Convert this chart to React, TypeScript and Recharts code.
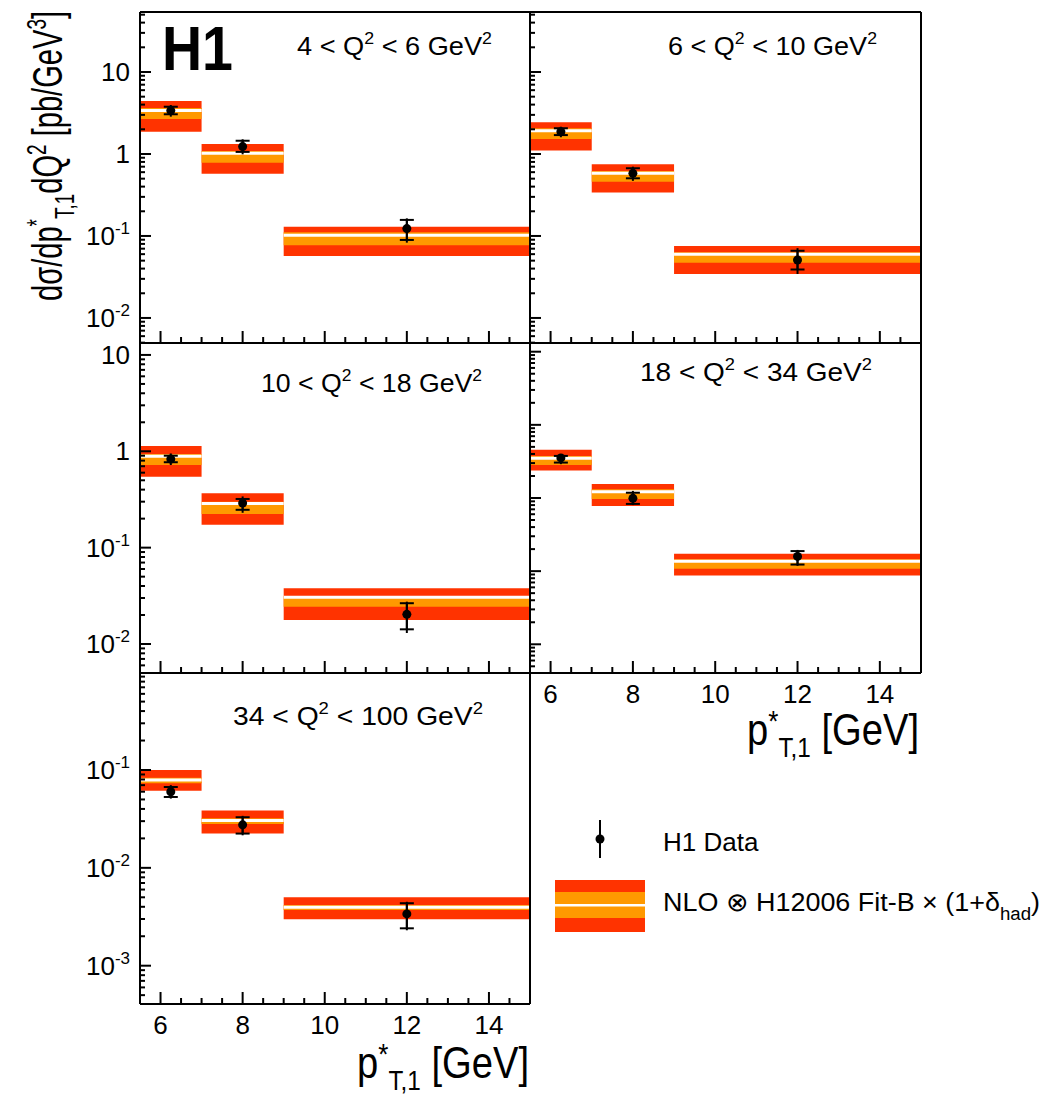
import React from "react";
import {
  ComposedChart,
  ErrorBar,
  ReferenceArea,
  ReferenceLine,
  Scatter,
  XAxis,
  YAxis,
} from "recharts";

const FONT = '"Liberation Sans", Arial, Helvetica, sans-serif';
const RED = "#ff3300";
const ORANGE = "#ff9900";

// p*T,1 bins [GeV]
const binLo = [5.5, 7, 9];
const binHi = [7, 9, 15];
const binCentre = [6.25, 8, 12];

// Q2 range of each panel [GeV^2]
const q2Lo = [4, 6, 10, 18, 34];
const q2Hi = [6, 10, 18, 34, 100];

// H1 data, one row per Q2 panel [pb/GeV^3]
const h1Data = [
  [3.38, 1.23, 0.123],
  [1.87, 0.58, 0.051],
  [0.83, 0.29, 0.0203],
  [0.353, 0.099, 0.0159],
  [0.06, 0.0275, 0.00338],
];
const statHi = [
  [3.77, 1.45, 0.157],
  [2.06, 0.67, 0.066],
  [0.9, 0.32, 0.0265],
  [0.376, 0.118, 0.0188],
  [0.067, 0.0329, 0.00435],
];
const statLo = [
  [3.05, 1.06, 0.0894],
  [1.7, 0.505, 0.039],
  [0.77, 0.247, 0.0142],
  [0.305, 0.083, 0.0123],
  [0.053, 0.0224, 0.00241],
];
const totHi = [
  [3.96, 1.51, 0.164],
  [2.15, 0.7, 0.071],
  [0.95, 0.34, 0.0275],
  [0.39, 0.125, 0.0195],
  [0.07, 0.034, 0.0045],
];
const totLo = [
  [2.85, 0.99, 0.0829],
  [1.6, 0.47, 0.0344],
  [0.72, 0.23, 0.013],
  [0.29, 0.08, 0.0118],
  [0.051, 0.0215, 0.0023],
];

// NLO prediction: central value, inner (orange) and outer (red) bands
const nloCentral = [
  [3.39, 1.02, 0.102],
  [1.92, 0.58, 0.0598],
  [0.89, 0.288, 0.0306],
  [0.35, 0.122, 0.0136],
  [0.079, 0.0305, 0.00396],
];
const nloInnerHi = [
  [3.64, 1.09, 0.111],
  [2.06, 0.62, 0.0633],
  [0.94, 0.3, 0.0315],
  [0.376, 0.132, 0.0145],
  [0.0834, 0.0321, 0.00417],
];
const nloInnerLo = [
  [2.67, 0.78, 0.077],
  [1.52, 0.46, 0.0473],
  [0.72, 0.224, 0.0244],
  [0.283, 0.097, 0.0108],
  [0.073, 0.0281, 0.00371],
];
const nloOuterHi = [
  [4.43, 1.32, 0.13],
  [2.44, 0.75, 0.0755],
  [1.135, 0.366, 0.0379],
  [0.455, 0.155, 0.0173],
  [0.1, 0.0386, 0.005],
];
const nloOuterLo = [
  [1.87, 0.575, 0.057],
  [1.1, 0.34, 0.0344],
  [0.545, 0.173, 0.0177],
  [0.237, 0.078, 0.0087],
  [0.0614, 0.0224, 0.00298],
];

// axes
const xTicks = [6, 6.5, 7, 7.5, 8, 8.5, 9, 9.5, 10, 10.5, 11, 11.5, 12, 12.5, 13, 13.5, 14, 14.5];
const xMajor = [6, 8, 10, 12, 14];
const yDomains = [
  [0.00495, 53.9],
  [0.00495, 53.9],
  [0.005, 13.3],
  [0.000405, 13.15],
  [0.000406, 0.98],
];

// panel frames on the page
const panels = [
  { left: 140, top: 12, w: 390, h: 331, yLab: true, xLab: false },
  { left: 530, top: 12, w: 391, h: 331, yLab: false, xLab: false },
  { left: 140, top: 343, w: 390, h: 330, yLab: true, xLab: false },
  { left: 530, top: 343, w: 391, h: 330, yLab: false, xLab: true },
  { left: 140, top: 673, w: 390, h: 331, yLab: true, xLab: true },
];

const logTicks = (lo: number, hi: number) => {
  const out: number[] = [];
  for (let e = Math.floor(Math.log10(lo)); e <= Math.ceil(Math.log10(hi)); e++) {
    for (let m = 1; m <= 9; m++) {
      const v = m * Math.pow(10, e);
      if (v >= lo && v <= hi) out.push(v);
    }
  }
  return out;
};

const isDecade = (v: number) =>
  Math.abs(Math.log10(v) - Math.round(Math.log10(v))) < 1e-6;

const YTick = (props: any) => {
  const { x, y, payload, showLabel } = props;
  const v = payload.value;
  const major = isDecade(v);
  const e = Math.round(Math.log10(v));
  return (
    <g>
      <line x1={x} x2={x + (major ? 11 : 5)} y1={y} y2={y} stroke="#000" strokeWidth={2} />
      {showLabel && major && (
        <text x={x - 10} y={y + 9} textAnchor="end" fontSize={26} fontFamily={FONT} fill="#000">
          {e === 0 ? "1" : e === 1 ? "10" : (
            <>
              10
              <tspan dy={-11} fontSize={17}>{e}</tspan>
            </>
          )}
        </text>
      )}
    </g>
  );
};

const XTick = (props: any) => {
  const { x, y, payload, showLabel } = props;
  const major = xMajor.includes(payload.value);
  return (
    <g>
      <line x1={x} x2={x} y1={y} y2={y - (major ? 12 : 6)} stroke="#000" strokeWidth={2} />
      {showLabel && major && (
        <text x={x} y={y + 30} textAnchor="middle" fontSize={26} fontFamily={FONT} fill="#000">
          {payload.value}
        </text>
      )}
    </g>
  );
};

// each axis takes 1px, so the margins are 1px smaller than the padding round the frame
const PAD = { top: 10, right: 10, bottom: 50, left: 90 };
const MARGIN = { top: PAD.top - 1, right: PAD.right - 1, bottom: PAD.bottom - 1, left: PAD.left - 1 };
const frame = { stroke: "#000", strokeWidth: 2 };

const Panel = ({ p }: { p: number }) => {
  const box = panels[p];
  const dom = yDomains[p];
  const pts = binCentre.map((x, i) => ({
    x,
    y: h1Data[p][i],
    stat: [h1Data[p][i] - statLo[p][i], statHi[p][i] - h1Data[p][i]],
    tot: [h1Data[p][i] - totLo[p][i], totHi[p][i] - h1Data[p][i]],
  }));
  return (
    <div
      style={{
        position: "absolute",
        left: box.left - PAD.left,
        top: box.top - PAD.top,
      }}
    >
      <ComposedChart
        width={box.w + PAD.left + PAD.right}
        height={box.h + PAD.top + PAD.bottom}
        margin={MARGIN}
      >
        {binLo.map((lo, i) => (
          <ReferenceArea
            key={`o${i}`}
            x1={lo}
            x2={binHi[i]}
            y1={nloOuterLo[p][i]}
            y2={nloOuterHi[p][i]}
            fill={RED}
            fillOpacity={1}
            stroke="none"
          />
        ))}
        {binLo.map((lo, i) => (
          <ReferenceArea
            key={`i${i}`}
            x1={lo}
            x2={binHi[i]}
            y1={nloInnerLo[p][i]}
            y2={nloInnerHi[p][i]}
            fill={ORANGE}
            fillOpacity={1}
            stroke="none"
          />
        ))}
        {binLo.map((lo, i) => (
          <ReferenceLine
            key={`c${i}`}
            segment={[
              { x: lo, y: nloCentral[p][i] },
              { x: binHi[i], y: nloCentral[p][i] },
            ]}
            stroke="#fff"
            strokeWidth={3}
          />
        ))}
        <XAxis
          type="number"
          dataKey="x"
          domain={[5.5, 15]}
          ticks={xTicks}
          interval={0}
          height={1}
          tickSize={0}
          tickMargin={0}
          tickLine={false}
          axisLine={frame}
          allowDataOverflow
          tick={(t: any) => <XTick {...t} showLabel={box.xLab} />}
        />
        <XAxis
          xAxisId="top"
          orientation="top"
          type="number"
          domain={[5.5, 15]}
          height={1}
          tick={false}
          tickLine={false}
          axisLine={frame}
        />
        <YAxis
          type="number"
          dataKey="y"
          scale="log"
          domain={dom}
          ticks={logTicks(dom[0], dom[1])}
          interval={0}
          width={1}
          tickSize={0}
          tickMargin={0}
          tickLine={false}
          axisLine={frame}
          allowDataOverflow
          tick={(t: any) => <YTick {...t} showLabel={box.yLab} />}
        />
        <YAxis
          yAxisId="right"
          orientation="right"
          type="number"
          domain={[0, 1]}
          width={1}
          tick={false}
          tickLine={false}
          axisLine={frame}
        />
        <Scatter
          data={pts}
          dataKey="y"
          isAnimationActive={false}
          shape={(s: any) => <circle cx={s.cx} cy={s.cy} r={4.5} fill="#000" />}
        >
          <ErrorBar dataKey="tot" direction="y" width={0} stroke="#000" strokeWidth={2} />
          <ErrorBar dataKey="stat" direction="y" width={7} stroke="#000" strokeWidth={2} />
        </Scatter>
      </ComposedChart>
    </div>
  );
};

const q2Pos = [
  { x: 297, y: 55, len: 195 },
  { x: 668, y: 55, len: 209 },
  { x: 261, y: 392, len: 221 },
  { x: 640, y: 381, len: 232 },
  { x: 233, y: 725, len: 250 },
];

const Sup = ({ children }: { children: React.ReactNode }) => (
  <tspan dy={-11} fontSize={17}>{children}</tspan>
);

const Overlay = () => (
  <svg
    width={1042}
    height={1095}
    style={{ position: "absolute", left: 0, top: 0, pointerEvents: "none" }}
    fontFamily={FONT}
  >
    <text x={162} y={70} fontSize={63} fontWeight="bold" textLength={71} lengthAdjust="spacingAndGlyphs">
      H1
    </text>
    {q2Pos.map((q, p) => (
      <text key={p} x={q.x} y={q.y} fontSize={26} textLength={q.len} lengthAdjust="spacingAndGlyphs">
        {`${q2Lo[p]} < Q`}
        <Sup>2</Sup>
        <tspan dy={11}>{` < ${q2Hi[p]} GeV`}</tspan>
        <Sup>2</Sup>
      </text>
    ))}
    {[
      { x: 357, y: 1078 },
      { x: 747, y: 745 },
    ].map((t, k) => (
      <text key={k} x={t.x} y={t.y} fontSize={44} textLength={172} lengthAdjust="spacingAndGlyphs">
        p<tspan dy={-14} fontSize={30}>*</tspan>
        <tspan dy={26} fontSize={28}>T,1</tspan>
        <tspan dy={-12}> [GeV]</tspan>
      </text>
    ))}
    <text
      x={62}
      y={301}
      transform="rotate(-90 62 301)"
      fontSize={43}
      textLength={290}
      lengthAdjust="spacingAndGlyphs"
    >
      dσ/dp<tspan dy={-16} fontSize={28}>*</tspan>
      <tspan dy={28} fontSize={28}>T,1</tspan>
      <tspan dy={-12}>dQ</tspan>
      <tspan dy={-16} fontSize={28}>2</tspan>
      <tspan dy={16}> [pb/GeV</tspan>
      <tspan dy={-16} fontSize={28}>3</tspan>
      <tspan dy={16}>]</tspan>
    </text>

    {/* legend */}
    <line x1={600} x2={600} y1={820} y2={858} stroke="#000" strokeWidth={2} />
    <circle cx={600} cy={839} r={4.5} fill="#000" />
    <text x={663} y={851} fontSize={26}>H1 Data</text>
    <rect x={555} y={880} width={90} height={52} fill={RED} />
    <rect x={555} y={892} width={90} height={26} fill={ORANGE} />
    <rect x={555} y={904} width={90} height={2.5} fill="#fff" />
    <text x={663} y={911} fontSize={26} textLength={377} lengthAdjust="spacingAndGlyphs">
      NLO ⊗ H12006 Fit-B × (1+δ<tspan dy={9} fontSize={18}>had</tspan>
      <tspan dy={-9}>)</tspan>
    </text>
  </svg>
);

export default function App() {
  return (
    <div
      style={{
        position: "absolute",
        left: 0,
        top: 0,
        width: 1042,
        height: 1095,
        background: "#fff",
        overflow: "hidden",
      }}
    >
      {panels.map((_, p) => (
        <Panel key={p} p={p} />
      ))}
      <Overlay />
    </div>
  );
}
